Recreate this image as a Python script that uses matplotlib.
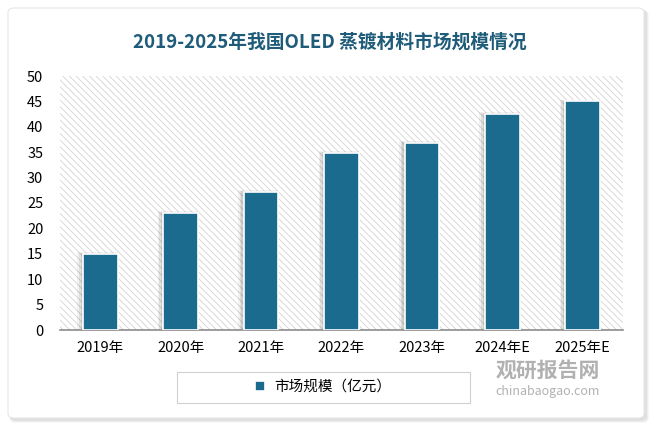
import matplotlib
matplotlib.use("Agg")
import matplotlib.pyplot as plt
from matplotlib.patches import FancyBboxPatch, Rectangle

plt.rcParams['font.family'] = ['Noto Sans CJK SC', 'DejaVu Sans']
plt.rcParams['hatch.linewidth'] = 0.6

categories = ['2019年', '2020年', '2021年', '2022年', '2023年', '2024年E', '2025年E']
values = [15, 23, 27.2, 34.8, 36.8, 42.5, 45]
title = '2019-2025年我国OLED 蒸镀材料市场规模情况'
legend_label = '市场规模（亿元）'
bar_color = '#1B6B8E'

W, H = 659, 432
fig = plt.figure(figsize=(W/100, H/100), dpi=100)
fig.patch.set_facecolor('white')

# card shadow and card
for i, a in enumerate([0.03, 0.04, 0.05]):
    d = (3 - i) * 2
    fig.patches.append(FancyBboxPatch((10/W, (H-420-d/2)/H), (636+d/2)/W, (412)/H,
                                      boxstyle='round,pad=0,rounding_size=0.01',
                                      transform=fig.transFigure, facecolor='black',
                                      alpha=a, edgecolor='none', zorder=0))
fig.patches.append(FancyBboxPatch((8/W, (H-418)/H), 636/W, 410/H,
                                  boxstyle='round,pad=0,rounding_size=0.01',
                                  transform=fig.transFigure, facecolor='white',
                                  edgecolor='#E6E6E6', linewidth=0.8, zorder=1))

ax = fig.add_axes([60/W, (H-330)/H, 563/W, 254/H])
ax.set_zorder(2)
ax.set_facecolor('white')
ax.add_patch(Rectangle((0, 0), 1, 1, transform=ax.transAxes, facecolor='white',
                       edgecolor='#D4D4D4', hatch='\\\\\\\\\\', linewidth=0, zorder=0))

x = list(range(len(categories)))
# soft shadow
for k, (dx, dw, a) in enumerate([(-0.035, 0.50, 0.05), (-0.03, 0.47, 0.07), (-0.02, 0.45, 0.08)]):
    ax.bar([xi + dx for xi in x], [v + 0.35 - 0.1 * k for v in values], width=dw,
           color='#000000', alpha=a, zorder=2, linewidth=0)
ax.bar(x, values, width=0.43, color=bar_color, edgecolor='white', linewidth=1.2,
       zorder=3, label=legend_label)

ax.set_xlim(-0.5, len(categories) - 0.5)
ax.set_ylim(0, 50)
ax.set_yticks(range(0, 51, 5))
ax.set_xticks(x)
ax.set_xticklabels(categories)
for s in ['top', 'right', 'left']:
    ax.spines[s].set_visible(False)
ax.spines['bottom'].set_color('#8C8C8C')
ax.spines['bottom'].set_linewidth(1.2)
ax.tick_params(axis='both', length=0, labelsize=10.5, colors='black')
ax.tick_params(axis='y', pad=12)
ax.tick_params(axis='x', pad=8)

fig.text(330/W, 1 - 42/H, title, ha='center', va='center', fontsize=13.5,
         color='#1F5C7A', fontweight='bold')

# legend box
fig.patches.append(Rectangle((177/W, 1 - 403/H), 293/W, 31/H, transform=fig.transFigure,
                             facecolor='white', edgecolor='#D0D0D0', linewidth=0.8, zorder=4))
leg = fig.legend(loc='center', bbox_to_anchor=(323/W, 1 - 387/H), frameon=False,
                 fontsize=10.5, handlelength=0.7, handleheight=0.7,
                 handletextpad=0.6)
leg.set_zorder(5)

# watermark
fig.text(548/W, 1 - 370/H, '观研报告网', ha='center', va='center', fontsize=15,
         color='#9E9E9E', fontweight='bold', alpha=0.8, zorder=6)
fig.text(548/W, 1 - 392/H, 'chinabaogao.com', ha='center', va='center', fontsize=9,
         color='#9E9E9E', alpha=0.8, zorder=6)

fig.savefig('out.png', dpi=100, facecolor='white')
